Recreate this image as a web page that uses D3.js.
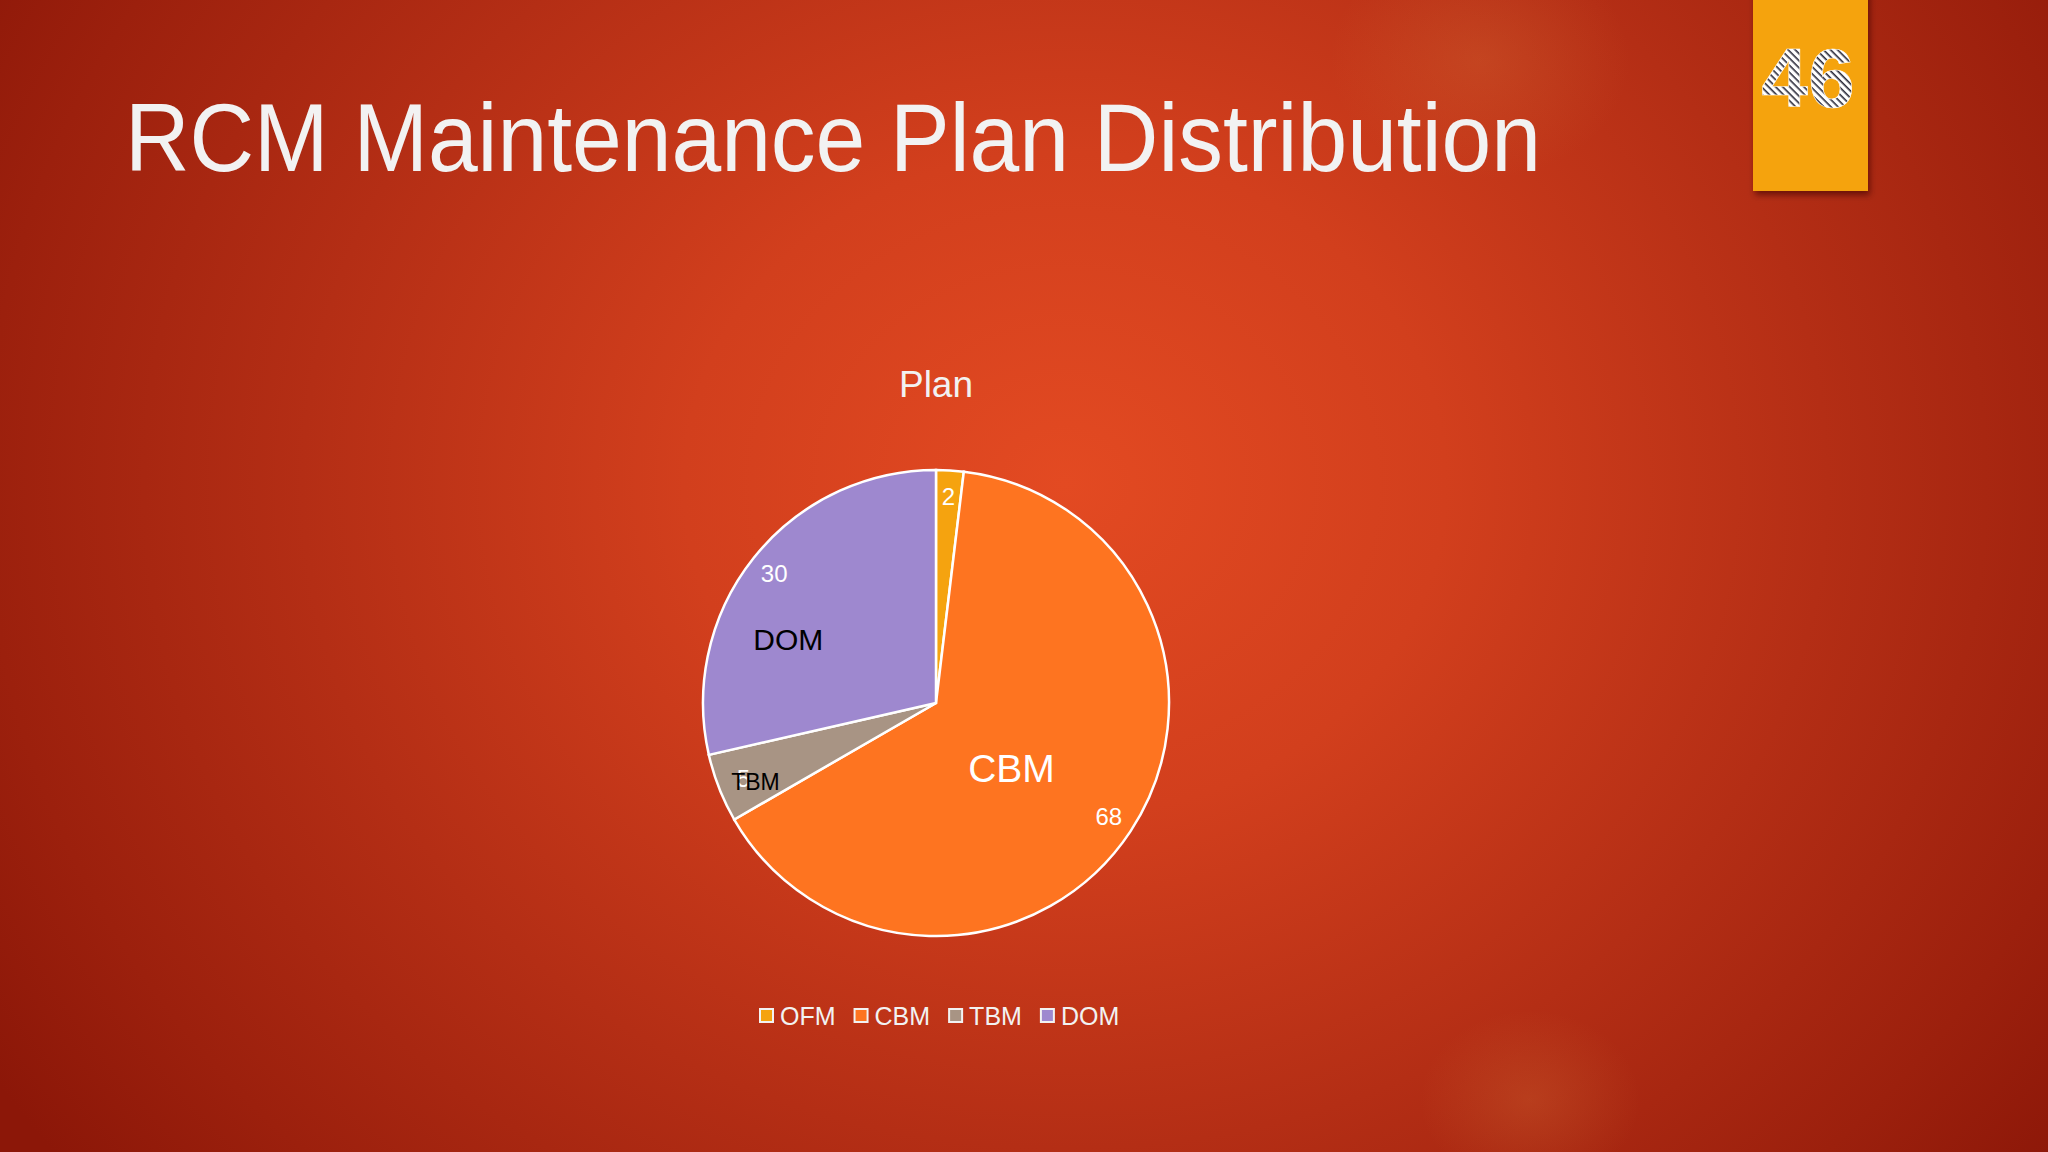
<html>
<head>
<script src="https://d3js.org/d3.v7.min.js"></script>
<style>
  body { margin: 0; overflow: hidden; background: #8a1508; }
  svg { display: block; font-family: "Liberation Sans", Arial, sans-serif; }
</style>
</head>
<body>
<svg id="chart" width="2048" height="1152"></svg>
<script>
// data
const categories = ["OFM", "CBM", "TBM", "DOM"];
const values = [2, 68, 5, 30];
const colors = ["#f5a30f", "#fe7420", "#a89484", "#9e88cf"];
const chartTitle = "Plan";
const slideTitle = "RCM Maintenance Plan Distribution";
const slideNumber = "46";

const W = 2048, H = 1152;
const cx = 936, cy = 703, R = 233;

const svg = d3.select("#chart");
const defs = svg.append("defs");

// background gradient
const bg = defs.append("radialGradient").attr("id", "bg")
  .attr("cx", "0.52").attr("cy", "0.42").attr("r", "0.62")
  .attr("gradientTransform", "translate(0.52,0.42) scale(1,1.55) translate(-0.52,-0.42)");
[[0, "#e34a22"], [0.3, "#d23f1d"], [0.6, "#b42e15"], [0.85, "#9c200d"], [1, "#8c1708"]]
  .forEach(s => bg.append("stop").attr("offset", s[0]).attr("stop-color", s[1]));

const blob = defs.append("radialGradient").attr("id", "blob");
blob.append("stop").attr("offset", 0).attr("stop-color", "#d8763a").attr("stop-opacity", 0.25);
blob.append("stop").attr("offset", 1).attr("stop-color", "#d8763a").attr("stop-opacity", 0);

const shadow = defs.append("filter").attr("id", "shadow")
  .attr("x", "-20%").attr("y", "-20%").attr("width", "150%").attr("height", "150%");
shadow.append("feDropShadow").attr("dx", 2).attr("dy", 4).attr("stdDeviation", 3)
  .attr("flood-color", "#3a0500").attr("flood-opacity", 0.6);

// hatched fill for the slide number
const pat = defs.append("pattern").attr("id", "hatch")
  .attr("width", 5).attr("height", 5).attr("patternUnits", "userSpaceOnUse")
  .attr("patternTransform", "rotate(45)");
pat.append("rect").attr("width", 5).attr("height", 5).attr("fill", "#ffffff");
pat.append("rect").attr("width", 5).attr("height", 1.6).attr("fill", "#2b2b3a");

svg.append("rect").attr("width", W).attr("height", H).attr("fill", "url(#bg)");
svg.append("ellipse").attr("cx", 1480).attr("cy", 60).attr("rx", 150).attr("ry", 120).attr("fill", "url(#blob)");
svg.append("ellipse").attr("cx", 1530).attr("cy", 1100).attr("rx", 110).attr("ry", 90).attr("fill", "url(#blob)");

// slide title
svg.append("text")
  .attr("x", 125).attr("y", 171)
  .attr("font-size", 96).attr("fill", "#f2f2f2")
  .attr("textLength", 1416).attr("lengthAdjust", "spacingAndGlyphs")
  .text(slideTitle);

// slide number tab
svg.append("rect")
  .attr("x", 1753).attr("y", -10).attr("width", 115).attr("height", 201)
  .attr("fill", "#f5a30f").attr("filter", "url(#shadow)");
svg.append("text")
  .attr("x", 1808).attr("y", 107)
  .attr("text-anchor", "middle").attr("font-size", 84).attr("font-weight", "bold")
  .attr("fill", "url(#hatch)").attr("stroke", "#ffffff").attr("stroke-width", 0.6)
  .text(slideNumber);

// chart title
svg.append("text")
  .attr("x", cx).attr("y", 397)
  .attr("text-anchor", "middle").attr("font-size", 37).attr("fill", "#f2f2f2")
  .text(chartTitle);

// pie
const data = categories.map((c, i) => ({ cat: c, value: values[i], color: colors[i] }));
const pie = d3.pie().sort(null).value(d => d.value);
const arcs = pie(data);
const arc = d3.arc().innerRadius(0).outerRadius(R);

const g = svg.append("g").attr("transform", `translate(${cx},${cy})`);
g.selectAll("path.slice")
  .data(arcs)
  .join("path")
  .attr("class", "slice")
  .attr("d", arc)
  .attr("fill", d => d.data.color)
  .attr("stroke", "#ffffff")
  .attr("stroke-width", 2.5);

// value labels near the rim
const valueArc = d3.arc().innerRadius(207).outerRadius(207);
g.selectAll("text.val")
  .data(arcs)
  .join("text")
  .attr("class", "val")
  .attr("transform", d => `translate(${valueArc.centroid(d)})`)
  .attr("text-anchor", "middle").attr("dy", "0.35em")
  .attr("font-size", 24).attr("fill", "#ffffff")
  .text(d => d.data.value);

// category labels (placed by hand in the original, so each has its own spot)
const catStyle = {
  OFM: null,
  CBM: { r: 100, a: 131, size: 39, fill: "#ffffff" },
  TBM: { r: 197, a: 246.4, size: 23, fill: "#000000" },
  DOM: { r: 161, a: 293.4, size: 30, fill: "#000000" }
};
g.selectAll("text.cat")
  .data(arcs.filter(d => catStyle[d.data.cat]))
  .join("text")
  .attr("class", "cat")
  .attr("transform", d => {
    const s = catStyle[d.data.cat];
    const a = s.a * Math.PI / 180;
    return `translate(${s.r * Math.sin(a)},${-s.r * Math.cos(a)})`;
  })
  .attr("text-anchor", "middle").attr("dy", "0.35em")
  .attr("font-size", d => catStyle[d.data.cat].size)
  .attr("fill", d => catStyle[d.data.cat].fill)
  .text(d => d.data.cat);

// legend
const legend = svg.append("g").attr("transform", "translate(0,1016)");
const items = legend.selectAll("g.item").data(data).join("g").attr("class", "item");
items.append("rect")
  .attr("x", 0).attr("y", -7).attr("width", 13).attr("height", 13)
  .attr("fill", d => d.color).attr("stroke", "#f2f2f2").attr("stroke-width", 2);
items.append("text")
  .attr("x", 20).attr("dy", "0.35em")
  .attr("font-size", 25).attr("fill", "#f2f2f2")
  .text(d => d.cat);
let xPos = 0;
const gap = 19;
items.each(function() {
  const w = this.getBBox().width;
  d3.select(this).attr("transform", `translate(${xPos},0)`);
  xPos += w + gap;
});
legend.attr("transform", "translate(760,1016)");
</script>
</body>
</html>
